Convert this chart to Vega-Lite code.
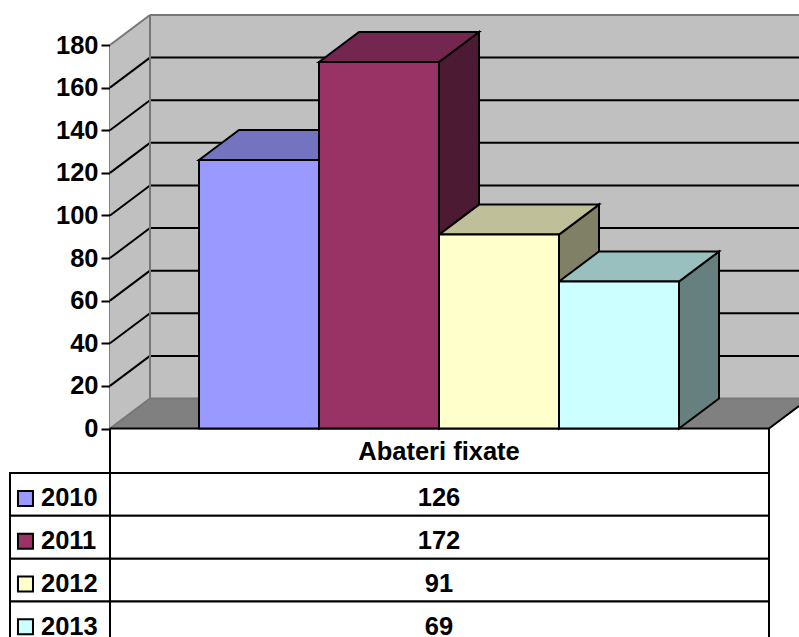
{
  "$schema": "https://vega.github.io/schema/vega-lite/v6.json",
  "width": 799,
  "height": 637,
  "padding": 0,
  "autosize": "none",
  "background": "white",
  "view": {"stroke": null},
  "config": {
    "font": "Liberation Sans",
    "text": {"font": "Liberation Sans", "fontWeight": "bold", "fontSize": 25.5},
    "axisY": {"offset": -110, "grid": false, "zindex": 1, "domainColor": "black", "domainWidth": 2, "tickColor": "black", "tickWidth": 2, "tickSize": 9, "labelPadding": 3,
      "labelFont": "Liberation Sans", "labelFontWeight": "bold", "labelFontSize": 25.5, "labelColor": "black", "labelOverlap": false}
  },
  "datasets": {
    "abateri": [
      {"year": 2010, "value": 126},
      {"year": 2011, "value": 172},
      {"year": 2012, "value": 91},
      {"year": 2013, "value": 69}
    ],
    "frame": [{"part": "wall"}],
    "gridlines": [{"tick": 20}, {"tick": 40}, {"tick": 60}, {"tick": 80}, {"tick": 100}, {"tick": 120}, {"tick": 140}, {"tick": 160}],
    "header": [{"label": "Abateri fixate"}]
  },
  "layer": [
    {
      "resolve": {"scale": {"fill": "independent"}},
      "layer": [
        {
          "description": "Back wall",
          "data": {"name": "frame"},
          "mark": {"type": "rect", "fill": "#c0c0c0"},
          "encoding": {
            "x": {"datum": -0.4083, "type": "quantitative", "axis": null, "scale": {"domain": [0, 4], "range": [199, 679], "nice": false, "zero": false}},
            "x2": {"datum": 5},
            "y": {"datum": 14.08, "type": "quantitative", "scale": {"domain": [0, 180], "range": [428.5, 45], "nice": false, "zero": false},
              "axis": {"values": [0, 20, 40, 60, 80, 100, 120, 140, 160, 180], "title": null}},
            "y2": {"datum": 194.08}
          }
        },
        {
          "description": "Left wall",
          "data": {"name": "frame"},
          "transform": [
            {"calculate": "[-0.7417, -0.4083]", "as": "px"},
            {"calculate": "[180, 194.08]", "as": "top"},
            {"calculate": "[0, 14.08]", "as": "base"},
            {"flatten": ["px", "top", "base"]}
          ],
          "mark": {"type": "area", "orient": "vertical", "fill": "#c0c0c0"},
          "encoding": {
            "x": {"field": "px", "type": "quantitative"},
            "y": {"field": "top", "type": "quantitative", "axis": {"title": null}},
            "y2": {"field": "base"}
          }
        },
        {
          "description": "Floor",
          "data": {"name": "frame"},
          "transform": [
            {"calculate": "[-0.7417, -0.4083, 4.75, 5]", "as": "px"},
            {"calculate": "[0, 14.08, 14.08, 14.08]", "as": "top"},
            {"calculate": "[0, 0, 0, 10.56]", "as": "base"},
            {"flatten": ["px", "top", "base"]}
          ],
          "mark": {"type": "area", "orient": "vertical", "fill": "#808080"},
          "encoding": {
            "x": {"field": "px", "type": "quantitative"},
            "y": {"field": "top", "type": "quantitative", "axis": {"title": null}},
            "y2": {"field": "base"}
          }
        },
        {
          "description": "Gridlines across the side wall",
          "data": {"name": "gridlines"},
          "transform": [{"calculate": "datum.tick + 14.08", "as": "back"}],
          "mark": {"type": "rule", "color": "black", "strokeWidth": 2},
          "encoding": {
            "x": {"datum": -0.7417, "type": "quantitative"},
            "x2": {"datum": -0.4083},
            "y": {"field": "tick", "type": "quantitative", "axis": {"title": null}},
            "y2": {"field": "back"}
          }
        },
        {
          "description": "Gridlines across the back wall",
          "data": {"name": "gridlines"},
          "transform": [{"calculate": "datum.tick + 14.08", "as": "back"}],
          "mark": {"type": "rule", "color": "black", "strokeWidth": 2},
          "encoding": {
            "x": {"datum": -0.4083, "type": "quantitative"},
            "x2": {"datum": 5},
            "y": {"field": "back", "type": "quantitative", "axis": {"title": null}}
          }
        },
        {
          "description": "Grey outline of the walls",
          "data": {"values": [
            {"edge": "a", "p": -0.7417, "q": -0.4083, "u": 180, "w": 194.08},
            {"edge": "b", "p": -0.4083, "q": 5, "u": 194.08, "w": 194.08},
            {"edge": "c", "p": -0.4083, "q": -0.4083, "u": 14.08, "w": 194.08},
            {"edge": "d", "p": -0.7417, "q": -0.4083, "u": 0, "w": 14.08},
            {"edge": "e", "p": -0.4083, "q": 5, "u": 14.08, "w": 14.08}
          ]},
          "mark": {"type": "rule", "color": "#777777", "strokeWidth": 2},
          "encoding": {
            "x": {"field": "p", "type": "quantitative"},
            "x2": {"field": "q"},
            "y": {"field": "u", "type": "quantitative", "axis": {"title": null}},
            "y2": {"field": "w"}
          }
        },
        {
          "description": "Front edge of the floor",
          "data": {"values": [
            {"p": -0.7417, "q": 4.75, "u": 0, "w": 0},
            {"p": 4.75, "q": 5, "u": 0, "w": 10.56}
          ]},
          "mark": {"type": "rule", "color": "black", "strokeWidth": 2},
          "encoding": {
            "x": {"field": "p", "type": "quantitative"},
            "x2": {"field": "q"},
            "y": {"field": "u", "type": "quantitative", "axis": {"title": null}},
            "y2": {"field": "w"}
          }
        },
        {
          "description": "Right-hand faces of the columns",
          "data": {"name": "abateri"},
          "transform": [
            {"calculate": "datum.year - 2010", "as": "slot"},
            {"calculate": "[datum.slot + 1, datum.slot + 1.3333]", "as": "px"},
            {"calculate": "[datum.value, datum.value + 14.08]", "as": "top"},
            {"calculate": "[0, 14.08]", "as": "base"},
            {"flatten": ["px", "top", "base"]}
          ],
          "mark": {"type": "area", "orient": "vertical", "stroke": "black", "strokeWidth": 2, "strokeJoin": "miter"},
          "encoding": {
            "x": {"field": "px", "type": "quantitative"},
            "y": {"field": "top", "type": "quantitative", "axis": {"title": null}},
            "y2": {"field": "base"},
            "detail": {"field": "year"},
            "fill": {"field": "year", "type": "nominal", "legend": null, "scale": {"domain": [2010, 2011, 2012, 2013], "range": ["#4d4d80", "#4d1a33", "#808066", "#668080"]}}
          }
        },
        {
          "description": "Top faces of the columns",
          "data": {"name": "abateri"},
          "transform": [
            {"calculate": "datum.year - 2010", "as": "slot"},
            {"calculate": "[datum.slot, datum.slot + 0.3333, datum.slot + 1, datum.slot + 1.3333]", "as": "px"},
            {"calculate": "[datum.value, datum.value + 14.08, datum.value + 14.08, datum.value + 14.08]", "as": "top"},
            {"calculate": "[datum.value, datum.value, datum.value, datum.value + 14.08]", "as": "base"},
            {"flatten": ["px", "top", "base"]}
          ],
          "mark": {"type": "area", "orient": "vertical", "stroke": "black", "strokeWidth": 2, "strokeJoin": "miter"},
          "encoding": {
            "x": {"field": "px", "type": "quantitative"},
            "y": {"field": "top", "type": "quantitative", "axis": {"title": null}},
            "y2": {"field": "base"},
            "detail": {"field": "year"},
            "fill": {"field": "year", "type": "nominal", "legend": null, "scale": {"domain": [2010, 2011, 2012, 2013], "range": ["#7373bf", "#732650", "#bfbf99", "#99bfbf"]}}
          }
        },
        {
          "description": "Front faces of the columns",
          "data": {"name": "abateri"},
          "transform": [
            {"calculate": "datum.year - 2010", "as": "slot"},
            {"calculate": "datum.slot + 1", "as": "slotEnd"}
          ],
          "mark": {"type": "rect", "stroke": "black", "strokeWidth": 2},
          "encoding": {
            "x": {"field": "slot", "type": "quantitative"},
            "x2": {"field": "slotEnd"},
            "y": {"field": "value", "type": "quantitative", "axis": {"title": null}},
            "y2": {"datum": 0},
            "fill": {"field": "year", "type": "nominal", "legend": null, "scale": {"domain": [2010, 2011, 2012, 2013], "range": ["#9999ff", "#993366", "#ffffcc", "#ccffff"]}}
          }
        }
      ]
    },
    {
      "description": "Data table under the plot",
      "layer": [
        {
          "data": {"name": "abateri"},
          "transform": [
            {"calculate": "datum.year - 2009", "as": "row"},
            {"calculate": "datum.row + 1", "as": "rowEnd"}
          ],
          "mark": {"type": "rect", "fill": "white", "stroke": "black", "strokeWidth": 2, "clip": true},
          "encoding": {
            "x": {"datum": -1.575, "type": "quantitative"},
            "x2": {"datum": -0.7417},
            "y": {"field": "row", "type": "quantitative", "axis": null, "scale": {"domain": [0, 1, 4, 5], "range": [428.5, 473, 601.5, 644], "nice": false, "zero": false}},
            "y2": {"field": "rowEnd"}
          }
        },
        {
          "data": {"name": "abateri"},
          "transform": [
            {"calculate": "datum.year - 2009", "as": "row"},
            {"calculate": "datum.row + 1", "as": "rowEnd"}
          ],
          "mark": {"type": "rect", "fill": "white", "stroke": "black", "strokeWidth": 2, "clip": true},
          "encoding": {
            "x": {"datum": -0.7417, "type": "quantitative"},
            "x2": {"datum": 4.75},
            "y": {"field": "row", "type": "quantitative", "axis": null},
            "y2": {"field": "rowEnd"}
          }
        },
        {
          "description": "Side borders of the header row",
          "data": {"values": [{"p": -0.7417}, {"p": 4.75}]},
          "mark": {"type": "rule", "color": "black", "strokeWidth": 2},
          "encoding": {
            "x": {"field": "p", "type": "quantitative"},
            "y": {"datum": 0, "type": "quantitative", "axis": null},
            "y2": {"datum": 1}
          }
        },
        {
          "data": {"name": "header"},
          "mark": {"type": "text", "align": "center", "baseline": "middle", "dy": 1, "color": "black"},
          "encoding": {
            "x": {"datum": 2, "type": "quantitative"},
            "y": {"datum": 0.5, "type": "quantitative", "axis": null},
            "text": {"field": "label"}
          }
        },
        {
          "data": {"name": "abateri"},
          "transform": [{"calculate": "datum.year - 2009 + 0.5", "as": "rowMid"}],
          "mark": {"type": "text", "align": "center", "baseline": "middle", "dy": 4, "color": "black"},
          "encoding": {
            "x": {"datum": 2, "type": "quantitative"},
            "y": {"field": "rowMid", "type": "quantitative", "axis": null},
            "text": {"field": "value", "type": "quantitative"}
          }
        },
        {
          "data": {"name": "abateri"},
          "transform": [{"calculate": "datum.year - 2009 + 0.5", "as": "rowMid"}],
          "mark": {"type": "text", "align": "left", "baseline": "middle", "dy": 4, "color": "black"},
          "encoding": {
            "x": {"datum": -1.317, "type": "quantitative"},
            "y": {"field": "rowMid", "type": "quantitative", "axis": null},
            "text": {"field": "year", "type": "nominal"}
          }
        },
        {
          "data": {"name": "abateri"},
          "transform": [{"calculate": "datum.year - 2009 + 0.5", "as": "rowMid"}],
          "mark": {"type": "point", "shape": "square", "filled": true, "size": 225, "opacity": 1, "stroke": "black", "strokeWidth": 2, "yOffset": 4},
          "encoding": {
            "x": {"datum": -1.446, "type": "quantitative"},
            "y": {"field": "rowMid", "type": "quantitative", "axis": null},
            "fill": {"field": "year", "type": "nominal", "legend": null, "scale": {"domain": [2010, 2011, 2012, 2013], "range": ["#9999ff", "#993366", "#ffffcc", "#ccffff"]}}
          }
        }
      ]
    }
  ],
  "resolve": {"scale": {"y": "independent", "fill": "independent"}, "axis": {"y": "independent"}}
}
